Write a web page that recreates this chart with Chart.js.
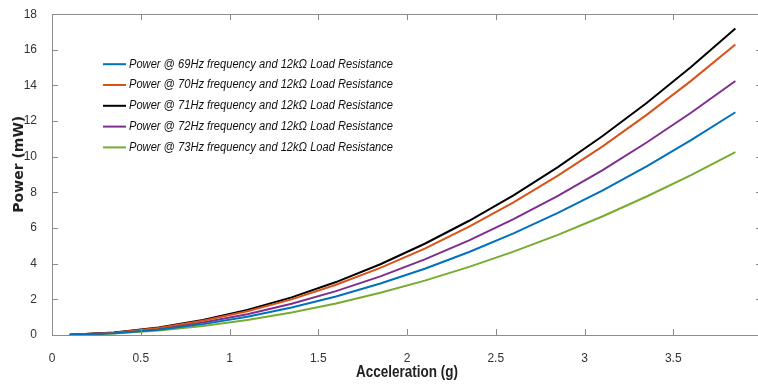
<!DOCTYPE html>
<html><head><meta charset="utf-8">
<script src="https://cdn.jsdelivr.net/npm/chart.js@4.4.0/dist/chart.umd.min.js"></script>
<style>
html,body{margin:0;padding:0;overflow:hidden;background:#fff}
#wrap{width:770px;height:385px;position:relative}
</style>
</head><body>
<div id="wrap"><canvas id="c"></canvas></div>
<script>
// ---- data ----
const accel = [0.1,0.35,0.6,0.85,1.1,1.35,1.6,1.85,2.1,2.35,2.6,2.85,3.1,3.35,3.6,3.85];
const p69 = [0.01,0.10,0.30,0.61,1.02,1.54,2.16,2.89,3.72,4.66,5.70,6.85,8.10,9.46,10.93,12.5];
const p70 = [0.01,0.13,0.40,0.80,1.33,2.00,2.82,3.77,4.85,6.08,7.44,8.94,10.57,12.35,14.26,16.3];
const p71 = [0.01,0.14,0.42,0.84,1.40,2.11,2.97,3.97,5.12,6.41,7.84,9.42,11.15,13.02,15.04,17.2];
const p72 = [0.01,0.12,0.35,0.70,1.16,1.75,2.46,3.29,4.24,5.31,6.50,7.81,9.24,10.80,12.47,14.25];
const p73 = [0.01,0.08,0.25,0.50,0.84,1.26,1.77,2.37,3.05,3.82,4.68,5.62,6.65,7.77,8.97,10.26];
const seriesLabels = [
  'Power @ 69Hz frequency and 12kΩ Load Resistance',
  'Power @ 70Hz frequency and 12kΩ Load Resistance',
  'Power @ 71Hz frequency and 12kΩ Load Resistance',
  'Power @ 72Hz frequency and 12kΩ Load Resistance',
  'Power @ 73Hz frequency and 12kΩ Load Resistance'
];
const xTitle = 'Acceleration (g)';
const yTitle = 'Power (mW)';

const colors = ['#0072BD','#D95319','#000000','#7E2F8E','#77AC30'];
const allSeries = [p69,p70,p71,p72,p73];

const datasets = allSeries.map((s,i)=>({
  label: seriesLabels[i],
  data: accel.map((x,j)=>({x:x,y:s[j]})),
  borderColor: colors[i],
  backgroundColor: colors[i],
  borderWidth: 2,
  pointRadius: 0,
  tension: 0,
  fill: false
}));

const FONT = "'Liberation Sans',Arial,sans-serif";

const framePlugin = {
  id:'frame',
  afterDraw(chart){
    const {ctx, chartArea:a, scales:{x,y}} = chart;
    ctx.save();
    ctx.strokeStyle = '#8c8c8c';
    ctx.lineWidth = 1;
    ctx.beginPath();
    ctx.rect(Math.round(a.left)+0.5, Math.round(a.top)+0.5, Math.round(a.right-a.left), Math.round(a.bottom-a.top));
    ctx.stroke();
    const L = 6;
    ctx.beginPath();
    x.ticks.forEach(t=>{
      const px = Math.round(x.getPixelForValue(t.value))+0.5;
      ctx.moveTo(px, a.bottom); ctx.lineTo(px, a.bottom-L);
      ctx.moveTo(px, a.top); ctx.lineTo(px, a.top+L);
    });
    y.ticks.forEach(t=>{
      const py = Math.round(y.getPixelForValue(t.value))+0.5;
      ctx.moveTo(a.left, py); ctx.lineTo(a.left+L, py);
      ctx.moveTo(a.right, py); ctx.lineTo(a.right-L, py);
    });
    ctx.stroke();
    // legend inside the axes
    ctx.font = "italic 12.5px " + FONT;
    ctx.textBaseline = 'middle';
    ctx.textAlign = 'left';
    const lx = a.left + 51, ly = a.top + 50, dy = 20.8;
    chart.data.datasets.forEach((d,i)=>{
      const yy = ly + i*dy;
      ctx.strokeStyle = d.borderColor; ctx.lineWidth = 2;
      ctx.beginPath(); ctx.moveTo(lx, yy); ctx.lineTo(lx+23, yy); ctx.stroke();
      ctx.fillStyle = '#111';
      ctx.save();
      ctx.translate(lx+26, yy);
      ctx.scale(0.89, 1);
      ctx.fillText(d.label, 0, 0);
      ctx.restore();
    });
    // axis titles
    ctx.fillStyle = '#222';
    ctx.textAlign = 'center';
    ctx.textBaseline = 'middle';
    ctx.save();
    ctx.translate(19, a.top + 150);
    ctx.rotate(-Math.PI/2);
    ctx.font = "bold 14px 'DejaVu Sans',Verdana,sans-serif";
    ctx.fillText(yTitle, 0, 0);
    ctx.restore();
    ctx.save();
    ctx.translate((a.left+a.right)/2, 372.5);
    ctx.scale(0.9, 1.05);
    ctx.font = "bold 15px " + FONT;
    ctx.fillText(xTitle, 0, 0);
    ctx.restore();
    ctx.restore();
  }
};

new Chart(document.getElementById('c'), {
  type:'line',
  data:{datasets},
  options:{
    responsive:true, maintainAspectRatio:false, animation:false,
    layout:{padding:{top:14,right:7,left:0,bottom:0}},
    plugins:{legend:{display:false}, tooltip:{enabled:false}},
    scales:{
      x:{type:'linear', min:0, max:4,
        ticks:{stepSize:0.5, padding:8, color:'#333', font:{family:FONT,size:12},
          callback:v=> v===4 ? '' : String(v)},
        grid:{display:false}, border:{display:false},
        title:{display:false, text:xTitle},
        afterFit(s){ s.height = 50; }
      },
      y:{type:'linear', min:0, max:18,
        ticks:{stepSize:2, padding:7, color:'#333', font:{family:FONT,size:12}},
        grid:{display:false}, border:{display:false},
        title:{display:false, text:yTitle},
        afterFit(s){ s.width = 52; }
      }
    }
  },
  plugins:[framePlugin]
});
</script>
</body></html>
